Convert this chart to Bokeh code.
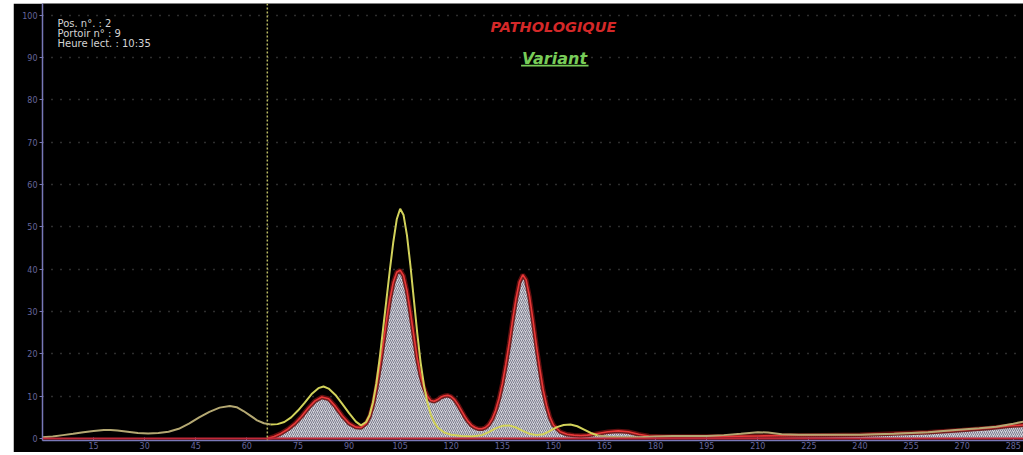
from bokeh.plotting import figure
from bokeh.models import Range1d, FixedTicker, Span, Label, BoxAnnotation
from bokeh.embed import file_html
from bokeh.resources import INLINE

# ---------------- data ----------------
# patient trace (red, hatched), migration time vs %
patient_x = [66, 68, 70, 72, 74, 76, 78, 80, 82, 84, 86, 88, 90, 92, 93.5, 95, 96, 97, 98, 99,
             100, 101, 102, 103, 104, 105, 106, 107, 108, 109, 110, 111, 112, 113, 114, 115, 116,
             117, 118, 119, 120, 121, 122, 123, 124, 125, 126, 127, 128, 129, 130, 131, 132, 133,
             134, 135, 136, 137, 138, 139, 140, 141, 142, 143, 144, 145, 146, 147, 148, 149, 150,
             152, 154, 156, 158, 160, 163, 166, 169, 172, 175, 178, 182, 190, 200, 210, 220, 230,
             240, 250, 260, 270, 278, 284, 288]
patient_y = [0, 0.5, 1.2, 2.2, 3.5, 5.2, 7.2, 8.9, 9.8, 9.4, 7.6, 5.4, 3.6, 2.7, 2.6, 3.6, 5.2, 8.0, 12, 17,
             22.5, 28, 33, 37, 39.3, 39.8, 38.5, 35, 30, 24.5, 19, 15, 12, 10, 9.0, 8.8, 9.2,
             9.8, 10.1, 10.2, 9.9, 9.2, 8.0, 6.6, 5.2, 4.0, 3.1, 2.6, 2.3, 2.3, 2.6, 3.3, 4.6, 6.6,
             9.4, 13, 17.5, 22.5, 28, 33, 37, 38.7, 37.5, 33.5, 28, 22, 16.5, 11.5, 7.8, 5.0, 3.2,
             1.6, 1.0, 0.8, 0.7, 0.8, 1.2, 1.6, 1.8, 1.6, 1.0, 0.6, 0.5, 0.5, 0.5, 0.6, 0.7, 0.8,
             0.9, 1.2, 1.5, 2.0, 2.5, 3.0, 3.2]

# reference / variant trace (yellow-khaki line)
ref_x = [0, 3, 6, 9, 12, 15, 18, 20, 22, 25, 28, 31, 34, 37, 40, 43, 46, 49, 52, 55, 57, 59, 61, 63,
         65, 67, 69, 71, 73, 75, 77, 79, 81, 82.5, 84, 86, 88, 90, 92, 93.5, 95, 96, 97, 98, 99,
         100, 101, 102, 103, 104, 105, 106, 107, 108, 109, 110, 111, 112, 113, 114, 115, 116, 118,
         120, 123, 126, 129, 131, 133, 135, 137, 139, 141, 143, 145, 147, 149, 151, 153, 155, 157,
         159, 161, 163, 166, 170, 175, 180, 185, 190, 195, 200, 205, 210, 213, 217, 222, 230, 240,
         250, 260, 268, 275, 280, 285, 288]
ref_y = [0.3, 0.5, 0.8, 1.1, 1.5, 1.8, 2.0, 2.0, 1.9, 1.6, 1.3, 1.2, 1.3, 1.6, 2.3, 3.5, 5.0, 6.3, 7.3,
         7.7, 7.4, 6.5, 5.4, 4.3, 3.6, 3.3, 3.4, 3.9, 5.0, 6.6, 8.5, 10.5, 11.9, 12.3, 11.8, 10.3,
         8.2, 6.0, 4.0, 3.1, 3.9, 5.5, 8.5, 13, 19, 26, 33, 40, 46.5, 51.8, 54.3, 52.8, 48, 41, 33,
         25, 18, 12.5, 8.5, 5.6, 3.8, 2.6, 1.4, 0.9, 0.6, 0.5, 0.8, 1.5, 2.4, 3.0, 3.1, 2.6, 1.8,
         1.1, 0.8, 1.0, 1.8, 2.7, 3.2, 3.3, 2.9, 2.1, 1.3, 0.7, 0.4, 0.3, 0.3, 0.5, 0.6, 0.6, 0.6,
         0.8, 1.1, 1.5, 1.4, 1.0, 0.9, 0.9, 0.9, 1.1, 1.5, 2.0, 2.4, 2.8, 3.5, 4.0]

x_ticks = [15, 30, 45, 60, 75, 90, 105, 120, 135, 150, 165, 180, 195, 210, 225, 240, 255, 270, 285]
y_ticks = [0, 10, 20, 30, 40, 50, 60, 70, 80, 90, 100]
grid_levels = [10, 20, 30, 40, 50, 60, 70, 80, 90, 100]
info_lines = ["Pos. n°. : 2", "Portoir n° : 9", "Heure lect. : 10:35"]
status_text = "PATHOLOGIQUE"
variant_text = "Variant"
start_marker = 66

# ---------------- figure ----------------
p = figure(width=1010, height=449, x_range=Range1d(0, 288), y_range=Range1d(-0.47, 102.8),
           output_backend="svg", toolbar_location=None,
           background_fill_color="black", border_fill_color="black",
           min_border_left=29, min_border_right=0, min_border_top=0, min_border_bottom=12)
p.margin = (3, 0, 0, 13)
p.outline_line_color = None

# axes
for ax in (p.xaxis[0], p.yaxis[0]):
    ax.axis_line_color = "#7878b8"
    ax.axis_line_width = 1.5
    ax.major_tick_line_color = "#7878b8"
    ax.minor_tick_line_color = None
    ax.major_label_text_color = "#66669c"
    ax.major_label_text_font = "DejaVu Sans"
    ax.major_label_text_font_size = "8px"

p.xaxis.ticker = FixedTicker(ticks=x_ticks)
p.xaxis.major_tick_in = 3
p.xaxis.major_tick_out = 0
p.xaxis.major_label_standoff = 1
p.yaxis.ticker = FixedTicker(ticks=y_ticks)
p.yaxis.major_tick_in = 0
p.yaxis.major_tick_out = 3
p.yaxis.major_label_standoff = 2

# grid
p.xgrid.grid_line_color = None
p.ygrid.ticker = FixedTicker(ticks=grid_levels)
p.ygrid.grid_line_color = "#5c5c5c"
p.ygrid.grid_line_dash = "1 8"
p.ygrid.grid_line_width = 1.5

# patient area (hatched)
p.varea(x=patient_x, y1=[0] * len(patient_x), y2=patient_y,
        fill_color="#d2d2da", hatch_pattern="/", hatch_color="#7c7c8c",
        hatch_scale=4, hatch_weight=1)
p.line(patient_x, patient_y, line_color="#6a1010", line_width=4.5, line_alpha=0.9)
p.line(patient_x, patient_y, line_color="#e83838", line_width=1.6)

# zero baseline
p.add_layout(Span(location=0, dimension="width", line_color="#c02838", line_width=2))

# reference trace, coloured by region
left = [i for i, x in enumerate(ref_x) if x <= 67]
mid = [i for i, x in enumerate(ref_x) if 67 <= x <= 163]
right = [i for i, x in enumerate(ref_x) if x >= 163]
p.line([ref_x[i] for i in left], [ref_y[i] for i in left], line_color="#b4a872", line_width=2)
p.line([ref_x[i] for i in mid], [ref_y[i] for i in mid], line_color="#d2d25a", line_width=2)
p.line([ref_x[i] for i in right], [ref_y[i] for i in right], line_color="#b4a872", line_width=2)

# dotted start marker
p.add_layout(Span(location=start_marker, dimension="height", line_color="#b8b860",
                  line_dash="2 2", line_width=1.5))

# info text
for k, t in enumerate(info_lines):
    p.add_layout(Label(x=4.4, y=99.4 - 2.4 * k, text=t, text_color="#d4d4d4",
                       text_font="DejaVu Sans", text_font_size="10px", text_baseline="top"))

p.add_layout(Label(x=150, y=97.2, text=status_text, text_color="#d42828",
                   text_font="DejaVu Sans", text_font_style="bold italic",
                   text_font_size="14.5px", text_align="center", text_baseline="middle"))
p.add_layout(Label(x=150.3, y=89.9, text=variant_text, text_color="#78cc58",
                   text_font="DejaVu Sans", text_font_style="bold italic",
                   text_font_size="16px", text_align="center", text_baseline="middle"))
p.add_layout(BoxAnnotation(left=140.5, right=160.3, bottom=87.9, top=88.35,
                           fill_color="#78cc58", fill_alpha=1, line_color=None))

open("out.html", "w").write(file_html(p, INLINE))
